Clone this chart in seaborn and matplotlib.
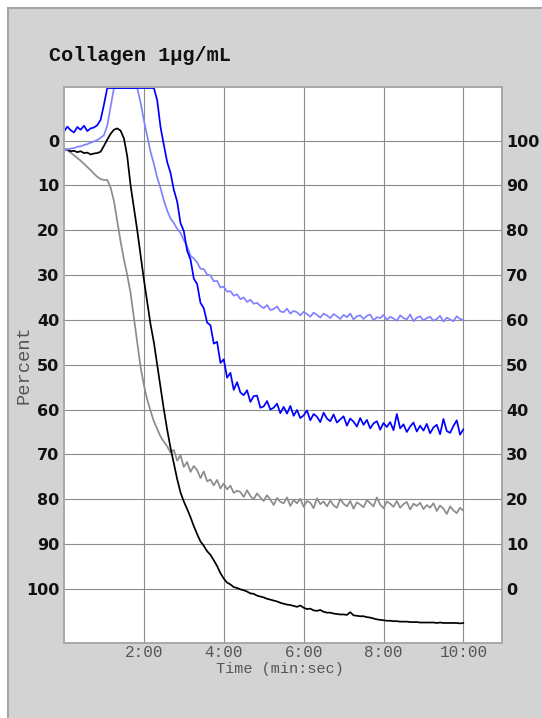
import numpy as np
import pandas as pd
import matplotlib
matplotlib.use("Agg")
import matplotlib.pyplot as plt
from matplotlib.patches import Rectangle
import seaborn as sns

# Sample times of the aggregation traces (seconds)
TIME_S = np.arange(0, 601, 5)

# Percent aggregation per channel, one value every 5 s
BLUE = [
    -2.0, -3.1, -2.3, -1.8, -3.0, -2.4, -3.3, -2.1, -2.7, -2.9,
    -3.4, -4.6, -8.0, -11.7, -11.7, -11.7, -11.7, -11.7, -11.7, -11.7,
    -11.7, -11.7, -11.7, -11.7, -11.7, -11.7, -11.7, -11.7, -9.0, -3.0,
    1.0, 4.8, 7.2, 11.0, 13.6, 18.4, 20.2, 24.6, 26.5, 30.8,
    32.0, 36.2, 37.4, 40.6, 41.2, 45.3, 44.9, 49.6, 48.8, 52.9,
    51.8, 55.6, 53.9, 56.2, 56.8, 55.7, 58.3, 57.0, 56.9, 59.6,
    59.3, 58.1, 60.0, 59.6, 58.7, 60.8, 59.4, 60.9, 59.2, 61.4,
    60.1, 61.9, 61.3, 60.2, 62.4, 61.0, 61.6, 62.8, 60.7, 62.0,
    62.6, 61.1, 62.9, 62.2, 61.5, 63.6, 62.0, 62.7, 63.8, 61.9,
    63.4, 62.3, 64.2, 63.1, 62.6, 64.5, 63.0, 63.9, 62.8, 64.6,
    61.0, 64.2, 63.3, 65.0, 63.8, 62.9, 64.9, 63.6, 64.7, 63.2,
    65.3, 64.0, 63.4, 65.5, 62.1, 64.8, 65.2, 63.7, 62.4, 65.6,
    64.4,
]
LIGHT_BLUE = [
    2.2, 2.0, 1.8, 1.7, 1.4, 1.3, 1.0, 0.8, 0.5, 0.2,
    -0.1, -0.6, -1.2, -3.3, -7.5, -11.7, -11.7, -11.7, -11.7, -11.7,
    -11.7, -11.7, -11.7, -8.5, -4.5, -1.0, 2.5, 5.2, 8.3, 10.6,
    13.4, 15.6, 17.4, 18.4, 19.7, 20.6, 22.2, 23.6, 25.7, 26.3,
    27.2, 28.6, 28.7, 29.9, 30.1, 31.4, 31.3, 32.8, 32.6, 33.7,
    33.6, 34.6, 34.3, 35.4, 35.0, 36.0, 35.5, 36.4, 36.2, 36.9,
    37.4, 36.7, 37.8, 37.6, 37.0, 38.1, 38.3, 37.5, 38.6, 38.0,
    38.3, 39.0, 38.2, 38.7, 39.3, 38.4, 38.9, 39.5, 38.6, 39.0,
    39.6, 38.7, 39.2, 39.8, 38.9, 39.4, 38.6, 39.9, 39.2, 39.0,
    39.8, 39.1, 38.8, 40.1, 39.4, 39.6, 38.9, 40.0, 39.3, 39.7,
    40.2, 39.0, 39.6, 39.9, 38.8, 40.3, 39.5, 39.2, 40.1, 39.6,
    39.3, 40.2, 39.8, 39.1, 40.4, 39.5, 39.9, 40.3, 39.2, 39.8,
    40.0,
]
BLACK = [
    2.2, 2.0, 2.4, 2.3, 2.6, 2.4, 2.8, 2.7, 3.1, 2.9,
    2.8, 2.5, 1.2, -0.2, -1.5, -2.4, -2.7, -2.2, -0.5, 3.5,
    10.0, 15.0, 20.0, 25.5, 31.0, 36.0, 41.0, 45.0, 50.0, 55.0,
    60.0, 64.5, 68.5, 72.0, 75.5, 78.5, 80.5, 82.2, 84.0, 86.0,
    87.8, 89.4, 90.4, 91.6, 92.4, 93.6, 94.9, 96.5, 97.7, 98.6,
    99.0, 99.6, 99.8, 100.1, 100.3, 100.6, 101.0, 101.1, 101.5, 101.7,
    101.9, 102.2, 102.4, 102.6, 102.8, 103.1, 103.3, 103.5, 103.6, 103.8,
    104.0, 103.7, 104.2, 104.5, 104.4, 104.8, 104.9, 104.7, 105.1, 105.3,
    105.3, 105.5, 105.6, 105.7, 105.7, 105.8, 105.2, 105.9, 106.0, 106.1,
    106.1, 106.3, 106.4, 106.6, 106.8, 106.9, 107.0, 107.1, 107.1, 107.2,
    107.2, 107.3, 107.3, 107.3, 107.4, 107.4, 107.4, 107.5, 107.5, 107.5,
    107.5, 107.5, 107.6, 107.5, 107.6, 107.6, 107.6, 107.6, 107.6, 107.7,
    107.6,
]
GRAY = [
    1.7, 2.2, 2.7, 3.3, 3.9, 4.5, 5.2, 5.9, 6.6, 7.4,
    8.1, 8.6, 8.8, 8.8, 10.5, 13.5, 18.0, 22.5, 26.5, 30.0,
    34.0, 39.5, 45.0, 50.5, 54.5, 57.8, 60.3, 62.6, 64.3, 66.0,
    67.2, 68.2, 69.6, 69.0, 71.4, 70.2, 72.8, 71.7, 73.9, 72.6,
    73.5, 75.3, 73.8, 76.0, 75.6, 76.9, 75.7, 77.6, 76.5, 77.8,
    77.0, 78.6, 78.1, 78.4, 79.5, 78.0, 79.3, 80.0, 78.7, 79.6,
    80.4, 79.1, 80.1, 81.3, 79.7, 80.6, 80.9, 79.6, 81.5, 80.2,
    80.9, 79.9, 81.7, 80.4, 80.8, 82.0, 79.8, 81.1, 80.5, 81.6,
    80.3, 81.4, 81.9, 80.0, 81.0, 81.6, 80.4, 82.1, 80.7, 81.2,
    81.8, 80.2, 80.9, 81.6, 79.6, 81.2, 82.0, 80.5, 81.0, 81.7,
    80.4, 81.9, 81.1, 80.6, 82.3, 81.0, 81.5, 80.8, 82.2, 81.3,
    81.9, 80.9, 82.6, 81.4, 82.1, 83.3, 81.6, 82.5, 83.1, 81.9,
    82.6,
]

CHANNELS = ["Channel 1", "Channel 2", "Channel 3", "Channel 4"]
COLORS = ["#8c8c8c", "#000000", "#8282ff", "#0000ff"]

Y_TICKS = [0, 10, 20, 30, 40, 50, 60, 70, 80, 90, 100]
Y_LEFT_LABELS = ["0", "10", "20", "30", "40", "50", "60", "70", "80", "90", "100"]
Y_RIGHT_LABELS = ["100", "90", "80", "70", "60", "50", "40", "30", "20", "10", "0"]
X_TICKS_S = [120, 240, 360, 480, 600]
X_TICK_LABELS = ["2:00", "4:00", "6:00", "8:00", "10:00"]

TITLE = "Collagen 1\u03bcg/mL"
X_LABEL = "Time (min:sec)"
Y_LABEL = "Percent"

sns.set_style("white")
MONO = ["Liberation Mono", "DejaVu Sans Mono"]
SANS = ["DejaVu Sans"]

df = pd.DataFrame({
    "time": np.tile(TIME_S, 4),
    "percent": np.concatenate([GRAY, BLACK, LIGHT_BLUE, BLUE]),
    "channel": np.repeat(CHANNELS, len(TIME_S)),
})

W, H = 542, 718
fig = plt.figure(figsize=(W / 100, H / 100), dpi=100)
fig.patch.set_facecolor("white")

# grey instrument panel behind the chart
fig.add_artist(Rectangle((8 / W, -0.02), 1.1, 1 - 8 / H + 0.02,
                         transform=fig.transFigure, facecolor="#d3d3d3",
                         edgecolor="#a6a6a6", linewidth=1.5, zorder=-10))

left, right, top, bottom = 64, 502, 86.7, 642.7
ax = fig.add_axes([left / W, 1 - bottom / H, (right - left) / W, (bottom - top) / H])
ax.set_facecolor("white")

sns.lineplot(data=df, x="time", y="percent", hue="channel", hue_order=CHANNELS,
             palette=dict(zip(CHANNELS, COLORS)), estimator=None, sort=False,
             legend=False, linewidth=1.25, ax=ax)

ax.set_xlim(0, 658)
ax.set_ylim(112, -12)
ax.set_xticks(X_TICKS_S)
ax.set_xticklabels(X_TICK_LABELS, fontfamily=MONO, fontsize=11.5, color="#555555")
ax.set_yticks(Y_TICKS)
ax.set_yticklabels(Y_LEFT_LABELS, fontfamily=SANS, fontweight="bold", fontsize=11.5,
                   color="#111111")
ax.tick_params(axis="both", length=0)
ax.tick_params(axis="x", pad=2)
ax.tick_params(axis="y", pad=3.5)
ax.grid(True, color="#8c8c8c", linewidth=0.8)
ax.set_axisbelow(True)

ax.set_xlabel(X_LABEL, fontfamily=MONO, fontsize=11, color="#555555", va="center")
ax.xaxis.set_label_coords((280 - left) / (right - left), -(669 - bottom) / (bottom - top))
ax.set_ylabel(Y_LABEL, fontfamily=MONO, fontsize=13.5, color="#555555", va="center")
ax.yaxis.set_label_coords(-(left - 24) / (right - left), 0.5)

ax2 = ax.twinx()
ax2.set_ylim(112, -12)
ax2.set_yticks(Y_TICKS)
ax2.set_yticklabels(Y_RIGHT_LABELS, fontfamily=SANS, fontweight="bold", fontsize=11.5,
                    color="#111111")
ax2.tick_params(axis="y", length=0, pad=3)
ax2.grid(False)

for a in (ax, ax2):
    for s in a.spines.values():
        s.set_color("#a8a8a8")
        s.set_linewidth(1.2)

fig.text(49 / W, 1 - 61 / H, TITLE, fontfamily=MONO, fontweight="bold",
         fontsize=14.5, ha="left", va="baseline", color="#111111")

fig.savefig("out.png", dpi=100)
